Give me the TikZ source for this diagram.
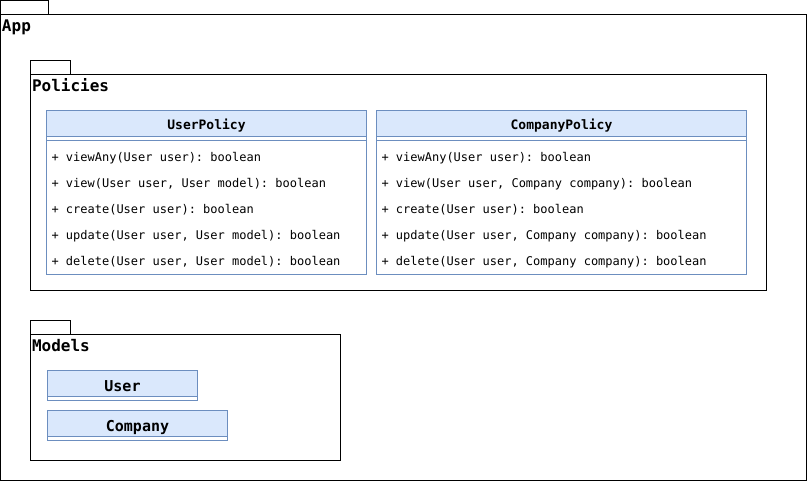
\documentclass[tikz,border=0pt]{standalone}
\usepackage{fontspec}
\setmonofont{DejaVu Sans Mono}
\definecolor{clsfill}{HTML}{DAE8FC}
\definecolor{clsline}{HTML}{6C8EBF}
\tikzset{
  every node/.style={outer sep=0pt},
  sz/.style 2 args={minimum width={#1*0.75pt}, minimum height={#2*0.75pt}},
  pkg/.style={draw=black, line width=0.75pt, fill=white, inner sep=0pt, anchor=north west},
  clsbox/.style={draw=clsline, line width=0.75pt, fill=white, inner sep=0pt, anchor=north west},
  clshead/.style={draw=clsline, line width=0.75pt, fill=clsfill, inner sep=0pt, anchor=north west},
  sepline/.style={draw=clsline, line width=0.75pt},
  pkglabel/.style={inner sep=0pt, anchor=base west, font=\fontsize{12}{14}\selectfont\ttfamily\bfseries},
  headtext/.style={inner sep=0pt, anchor=base, font=\fontsize{9.75}{12}\selectfont\ttfamily\bfseries},
  modeltext/.style={inner sep=0pt, anchor=base, font=\fontsize{11.25}{13}\selectfont\ttfamily\bfseries},
  rowtext/.style={inner sep=0pt, anchor=base west, font=\fontsize{9}{11}\selectfont\ttfamily},
}
\begin{document}
\begin{tikzpicture}[x=0.75pt,y=-0.75pt]
\useasboundingbox (0,0) rectangle (807,481);
% App package
\node[pkg, sz={48}{14}] (apptab) at (0.5,0.5) {};
\node[pkg, sz={806}{466}] (app) at (0.5,14.5) {};
\node[pkglabel] (applabel) at (2,31.5) {App};
% Policies package
\node[pkg, sz={40}{14}] (poltab) at (30.5,60.5) {};
\node[pkg, sz={736}{216}] (pol) at (30.5,74.5) {};
\node[pkglabel] (pollabel) at (32,91.5) {Policies};
% UserPolicy
\node[clsbox, sz={320}{164}] (up) at (46.5,110.5) {};
\node[clshead, sz={320}{26}] (uph) at (46.5,110.5) {};
\node[headtext] (upname) at (206.5,130) {UserPolicy};
\draw[sepline] ([yshift=-3pt]uph.south west) -- ([yshift=-3pt]uph.south east);
\node[rowtext] (u1) at (51.5,161.5) {+ viewAny(User user): boolean};
\node[rowtext] (u2) at (51.5,187.5) {+ view(User user, User model): boolean};
\node[rowtext] (u3) at (51.5,213.5) {+ create(User user): boolean};
\node[rowtext] (u4) at (51.5,239.5) {+ update(User user, User model): boolean};
\node[rowtext] (u5) at (51.5,265.5) {+ delete(User user, User model): boolean};
% CompanyPolicy
\node[clsbox, sz={370}{164}] (cp) at (376.5,110.5) {};
\node[clshead, sz={370}{26}] (cph) at (376.5,110.5) {};
\node[headtext] (cpname) at (561.5,130) {CompanyPolicy};
\draw[sepline] ([yshift=-3pt]cph.south west) -- ([yshift=-3pt]cph.south east);
\node[rowtext] (c1) at (381.5,161.5) {+ viewAny(User user): boolean};
\node[rowtext] (c2) at (381.5,187.5) {+ view(User user, Company company): boolean};
\node[rowtext] (c3) at (381.5,213.5) {+ create(User user): boolean};
\node[rowtext] (c4) at (381.5,239.5) {+ update(User user, Company company): boolean};
\node[rowtext] (c5) at (381.5,265.5) {+ delete(User user, Company company): boolean};
% Models package
\node[pkg, sz={40}{14}] (modtab) at (30.5,320.5) {};
\node[pkg, sz={310}{126}] (mod) at (30.5,334.5) {};
\node[pkglabel] (modlabel) at (32,351.5) {Models};
% User
\node[clsbox, sz={150}{30}] (user) at (47.5,370.5) {};
\node[clshead, sz={150}{26}] (userh) at (47.5,370.5) {};
\node[modeltext] (username) at (122.5,391) {User};
% Company
\node[clsbox, sz={180}{30}] (comp) at (47.5,410.5) {};
\node[clshead, sz={180}{26}] (comph) at (47.5,410.5) {};
\node[modeltext] (compname) at (137.5,431) {Company};
\end{tikzpicture}
\end{document}
